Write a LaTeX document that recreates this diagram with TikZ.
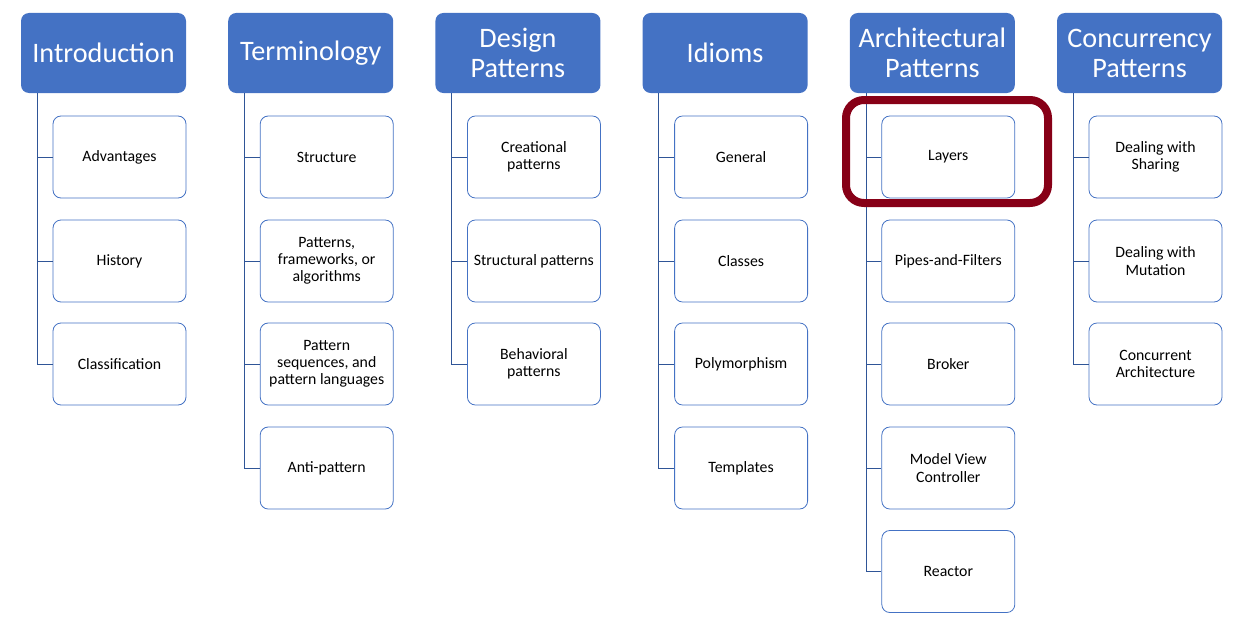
\documentclass[tikz,border=0pt]{standalone}
\usepackage{fontspec}
\setmainfont{Carlito}
\definecolor{hblue}{HTML}{4472C4}
\definecolor{lblue}{HTML}{2F5597}
\definecolor{hred}{HTML}{870017}
\tikzset{
  head/.style={fill=hblue, draw=none, rounded corners=8pt, minimum width=165pt, minimum height=80pt,
    text=white, font=\fontsize{28.2}{30}\selectfont, align=center, inner sep=0pt},
  child/.style={fill=white, draw=hblue, line width=0.8pt, rounded corners=8pt, minimum width=133pt, minimum height=82pt,
    text=black, font=\fontsize{15.8}{17.2}\selectfont, align=center, inner sep=0pt},
  conn/.style={draw=lblue, line width=1pt},
  hilite/.style={draw=hred, line width=8pt, rounded corners=18pt, minimum width=202pt, minimum height=103pt, inner sep=0pt}
}
\begin{document}
\begin{tikzpicture}[x=1pt,y=-1pt]
\useasboundingbox (0,0) rectangle (1233,626);
\def\rowy{{157,261,364,468,571.5}}
% headers
\foreach \i/\t in {0/Introduction,1/Terminology,2/{Design\\Patterns},3/Idioms,4/{Architectural\\Patterns},5/{Concurrency\\Patterns}}{
  \node[head] (h\i) at ({21+207.2*\i+82.5},53) {\t};
}
% children
\foreach \i/\j/\t in {
  0/0/Advantages, 0/1/History, 0/2/Classification,
  1/0/Structure, 1/1/{Patterns,\\frameworks, or\\algorithms}, 1/2/{Pattern\\sequences, and\\pattern languages}, 1/3/Anti-pattern,
  2/0/{Creational\\patterns}, 2/1/{Structural patterns}, 2/2/{Behavioral\\patterns},
  3/0/General, 3/1/Classes, 3/2/Polymorphism, 3/3/Templates,
  4/0/Layers, 4/1/Pipes-and-Filters, 4/2/Broker, 4/3/{Model View\\Controller}, 4/4/Reactor,
  5/0/{Dealing with\\Sharing}, 5/1/{Dealing with\\Mutation}, 5/2/{Concurrent\\Architecture}}{
  \pgfmathsetmacro{\yy}{\rowy[\j]}
  \node[child] (c\i\j) at ({21+207.2*\i+98.5},\yy) {\t};
  \draw[conn] ([xshift=16.5pt]h\i.south west) |- (c\i\j.west);
}
\node[hilite] (hl) at (947,151.5) {};
\end{tikzpicture}
\end{document}
